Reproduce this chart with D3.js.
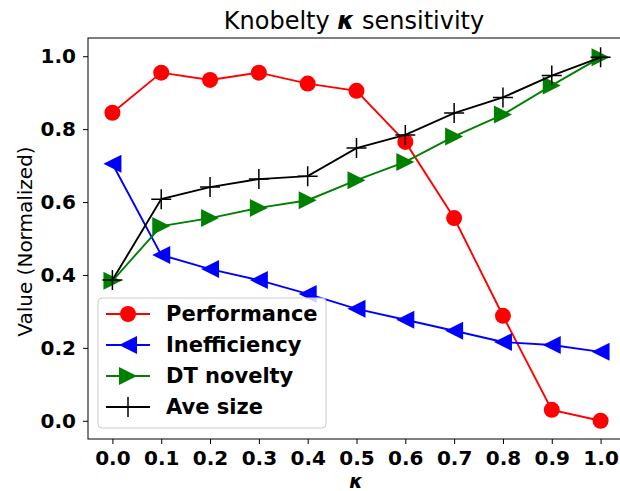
<!DOCTYPE html>
<html>
<head>
<meta charset="utf-8">
<script src="https://cdn.jsdelivr.net/npm/d3@7"></script>
<style>
  body { margin: 0; background: #fff; }
  svg { font-family: "DejaVu Sans", sans-serif; }
</style>
</head>
<body>
<div id="svg-container"></div>
<script>
// data
const kappa = [0.0, 0.1, 0.2, 0.3, 0.4, 0.5, 0.6, 0.7, 0.8, 0.9, 1.0];
const performance = [0.845, 0.955, 0.935, 0.955, 0.925, 0.905, 0.765, 0.556, 0.288, 0.03, 0.0];
const inefficiency = [0.705, 0.455, 0.416, 0.386, 0.348, 0.307, 0.277, 0.247, 0.216, 0.208, 0.189];
const dtNovelty = [0.384, 0.534, 0.556, 0.584, 0.605, 0.66, 0.71, 0.78, 0.84, 0.92, 0.997];
const aveSize = [0.386, 0.608, 0.641, 0.663, 0.671, 0.748, 0.784, 0.844, 0.887, 0.947, 0.997];
const xTicks = [0.0, 0.1, 0.2, 0.3, 0.4, 0.5, 0.6, 0.7, 0.8, 0.9, 1.0];
const yTicks = [0.0, 0.2, 0.4, 0.6, 0.8, 1.0];

const series = [
  { name: "Performance", values: performance, color: "#ff0000", marker: "circle" },
  { name: "Inefficiency", values: inefficiency, color: "#0000ff", marker: "left" },
  { name: "DT novelty", values: dtNovelty, color: "#008000", marker: "right" },
  { name: "Ave size", values: aveSize, color: "#000000", marker: "plus" }
];

const width = 620;
const height = 491;
const margin = { top: 38, right: -5, bottom: 52, left: 88 };

const svg = d3.select("#svg-container").append("svg")
  .attr("width", width).attr("height", height);

const xScale = d3.scaleLinear().domain([-0.05, 1.05]).range([margin.left, width - margin.right]);
const yScale = d3.scaleLinear().domain([-0.05, 1.05]).range([height - margin.bottom, margin.top]);

// axes
const xAxis = d3.axisBottom(xScale).tickValues(xTicks).tickFormat(d3.format(".1f"))
  .tickSizeOuter(0).tickSize(5).tickPadding(7);
const yAxis = d3.axisLeft(yScale).tickValues(yTicks).tickFormat(d3.format(".1f"))
  .tickSizeOuter(0).tickSize(5).tickPadding(7);

svg.append("g").attr("class", "x-axis")
  .attr("transform", `translate(0, ${height - margin.bottom})`)
  .call(xAxis)
  .call(g => g.select(".domain").remove());

svg.append("g").attr("class", "y-axis")
  .attr("transform", `translate(${margin.left}, 0)`)
  .call(yAxis)
  .call(g => g.select(".domain").remove());

svg.selectAll(".tick line").attr("stroke", "#000").attr("stroke-width", 1);
svg.selectAll(".tick text")
  .attr("font-family", "DejaVu Sans")
  .attr("font-size", 20)
  .attr("font-weight", "bold")
  .attr("fill", "#000");

// frame
svg.append("rect")
  .attr("x", margin.left).attr("y", margin.top)
  .attr("width", xScale(1.05) - margin.left)
  .attr("height", yScale(-0.05) - margin.top)
  .attr("fill", "none").attr("stroke", "#000").attr("stroke-width", 1);

// marker shapes
function drawMarker(g, type, color, x, y) {
  if (type === "circle") {
    g.append("circle").attr("cx", x).attr("cy", y).attr("r", 8).attr("fill", color);
  } else if (type === "left") {
    g.append("path")
      .attr("d", `M${x - 9},${y} L${x + 9},${y - 9} L${x + 9},${y + 9} Z`)
      .attr("fill", color);
  } else if (type === "right") {
    g.append("path")
      .attr("d", `M${x + 9},${y} L${x - 9},${y - 9} L${x - 9},${y + 9} Z`)
      .attr("fill", color);
  } else {
    g.append("path")
      .attr("d", `M${x - 10},${y} H${x + 10} M${x},${y - 10} V${y + 10}`)
      .attr("stroke", color).attr("stroke-width", 1.5).attr("fill", "none");
  }
}

const line = d3.line().x((d, i) => xScale(kappa[i])).y(d => yScale(d));

series.forEach(s => {
  const g = svg.append("g");
  g.append("path").datum(s.values)
    .attr("d", line)
    .attr("fill", "none")
    .attr("stroke", s.color)
    .attr("stroke-width", 1.9);
  s.values.forEach((v, i) => drawMarker(g, s.marker, s.color, xScale(kappa[i]), yScale(v)));
});

// title & labels
svg.append("text")
  .attr("x", 354).attr("y", 29)
  .attr("text-anchor", "middle")
  .attr("font-size", 24)
  .html('Knobelty <tspan font-weight="bold" font-style="italic">κ</tspan> sensitivity');

svg.append("text")
  .attr("transform", `translate(32, ${yScale(0.5) + 3}) rotate(-90)`)
  .attr("text-anchor", "middle")
  .attr("font-size", 20)
  .text("Value (Normalized)");

svg.append("text")
  .attr("x", 356).attr("y", 488)
  .attr("text-anchor", "middle")
  .attr("font-size", 19)
  .attr("font-weight", "bold")
  .attr("font-style", "italic")
  .text("κ");

// legend
const legend = svg.append("g").attr("transform", "translate(98, 298)");
legend.append("rect")
  .attr("width", 228).attr("height", 130).attr("rx", 4)
  .attr("fill", "#fff").attr("fill-opacity", 0.8)
  .attr("stroke", "#ccc").attr("stroke-width", 1);

series.forEach((s, i) => {
  const y = 16 + i * 31;
  const g = legend.append("g");
  g.append("line")
    .attr("x1", 8).attr("x2", 52).attr("y1", y).attr("y2", y)
    .attr("stroke", s.color).attr("stroke-width", 1.9);
  drawMarker(g, s.marker, s.color, 30, y);
  g.append("text")
    .attr("x", 68).attr("y", y + 7)
    .attr("font-size", 21)
    .attr("font-weight", "bold")
    .text(s.name);
});
</script>
</body>
</html>
